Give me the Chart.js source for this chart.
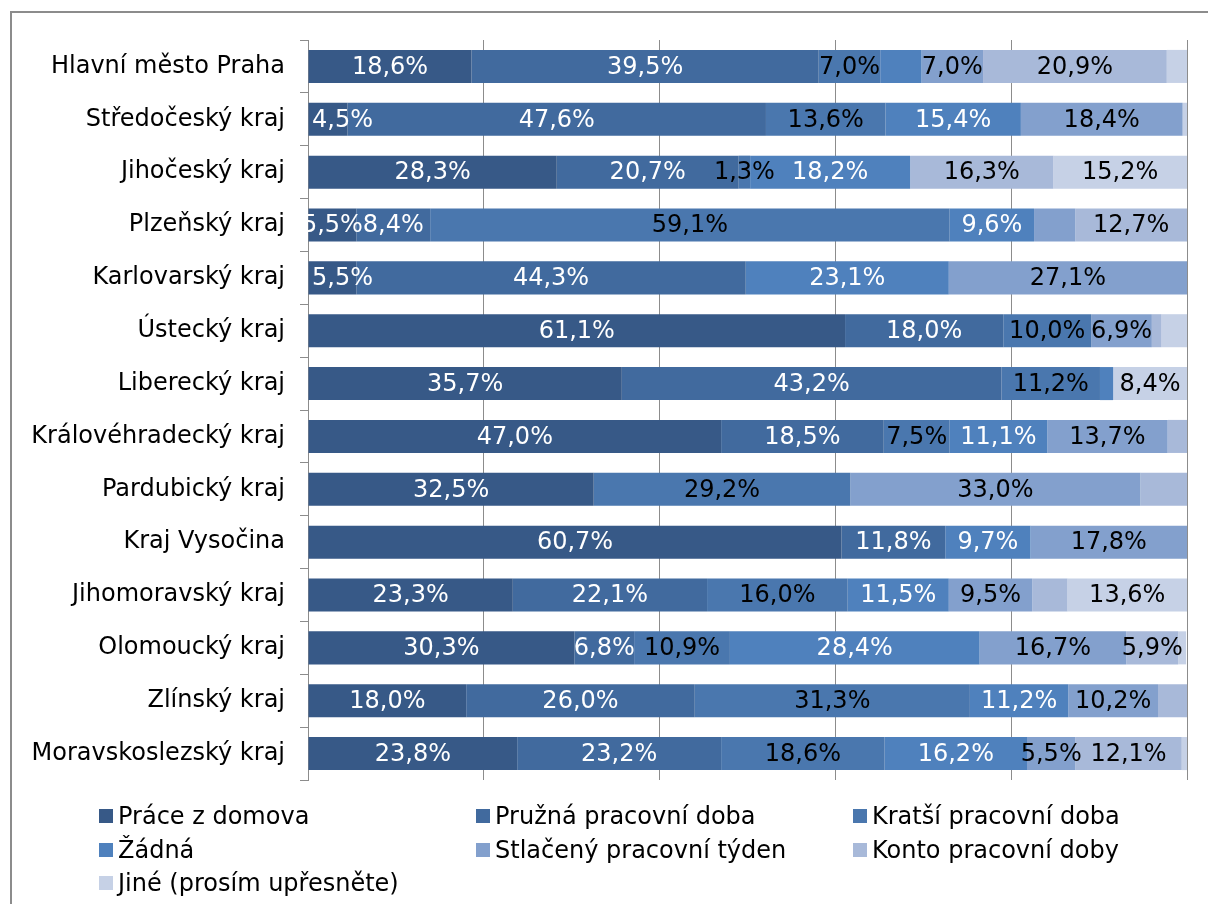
<!DOCTYPE html>
<html>
<head>
<meta charset="utf-8">
<script src="https://cdn.jsdelivr.net/npm/chart.js@4"></script>
<style>
    html, body { margin: 0; padding: 0; background: #fff; }
    body { width: 1208px; height: 904px; position: relative; overflow: hidden; font-family: "DejaVu Sans", sans-serif; }
    #frame { position: absolute; left: 10px; top: 11px; width: 1300px; height: 1000px; border: 2px solid #8c8c8c; box-sizing: border-box; }
    #wrap { position: absolute; left: 0; top: 0; width: 1208px; height: 904px; }
    #legend { position: absolute; left: 99px; top: 800px; display: grid; grid-template-columns: 377px 377px 377px; row-gap: 0; }
    #legend div { height: 33.5px; line-height: 33.5px; font-size: 24px; color: #000; white-space: nowrap; }
    #legend span { display: inline-block; width: 14px; height: 14px; margin-right: 5px; vertical-align: 1px; }
</style>
</head>
<body>
<div id="frame"></div>
<div id="wrap"><canvas id="chart" width="1208" height="904"></canvas></div>
<div id="legend"></div>
<script>
    const regions = ['Hlavní město Praha', 'Středočeský kraj', 'Jihočeský kraj', 'Plzeňský kraj', 'Karlovarský kraj',
        'Ústecký kraj', 'Liberecký kraj', 'Královéhradecký kraj', 'Pardubický kraj', 'Kraj Vysočina',
        'Jihomoravský kraj', 'Olomoucký kraj', 'Zlínský kraj', 'Moravskoslezský kraj'];

    const seriesNames = ['Práce z domova', 'Pružná pracovní doba', 'Kratší pracovní doba', 'Žádná',
        'Stlačený pracovní týden', 'Konto pracovní doby', 'Jiné (prosím upřesněte)'];

    const praceZDomova = [18.6, 4.5, 28.3, 5.5, 5.5, 61.1, 35.7, 47.0, 32.5, 60.7, 23.3, 30.3, 18.0, 23.8];
    const pruznaDoba = [39.5, 47.6, 20.7, 8.4, 44.3, 18.0, 43.2, 18.5, 0, 11.8, 22.1, 6.8, 26.0, 23.2];
    const kratsiDoba = [7.0, 13.6, 1.3, 59.1, 0, 10.0, 11.2, 7.5, 29.2, 0, 16.0, 10.9, 31.3, 18.6];
    const zadna = [4.7, 15.4, 18.2, 9.6, 23.1, 0, 1.5, 11.1, 0, 9.7, 11.5, 28.4, 11.2, 16.2];
    const stlacenyTyden = [7.0, 18.4, 0, 4.7, 27.1, 6.9, 0, 13.7, 33.0, 17.8, 9.5, 16.7, 10.2, 5.5];
    const kontoDoby = [20.9, 0, 16.3, 12.7, 0, 1.1, 0, 2.2, 5.3, 0, 4.0, 5.9, 3.3, 12.1];
    const jine = [2.3, 0.5, 15.2, 0, 0, 2.9, 8.4, 0, 0, 0, 13.6, 0.9, 0, 0.6];

    // segments that have no value label in the original: [region index, series index]
    const unlabeled = [[0, 3], [0, 6], [1, 6], [3, 4], [5, 5], [5, 6], [6, 3], [7, 5], [8, 5], [10, 5], [11, 6], [12, 5], [13, 6]];

    const seriesValues = [praceZDomova, pruznaDoba, kratsiDoba, zadna, stlacenyTyden, kontoDoby, jine];
    const colors = ['#375987', '#416a9e', '#4a77ae', '#4f81bd', '#83a0cd', '#a8b9d9', '#c6d1e6'];
    const labelColors = ['#fff', '#fff', '#000', '#fff', '#000', '#000', '#000'];

    const fontFamily = '"DejaVu Sans", sans-serif';

    const fmt = v => v.toFixed(1).replace('.', ',') + '%';

    const valueLabels = {
        id: 'valueLabels',
        afterDatasetsDraw(chart) {
            const ctx = chart.ctx;
            const area = chart.chartArea;
            ctx.save();
            ctx.beginPath();
            ctx.rect(area.left, 0, chart.width - area.left, chart.height);
            ctx.clip();
            ctx.font = '24px ' + fontFamily;
            ctx.textAlign = 'center';
            ctx.textBaseline = 'middle';
            chart.data.datasets.forEach((ds, di) => {
                const meta = chart.getDatasetMeta(di);
                meta.data.forEach((bar, i) => {
                    const v = ds.data[i];
                    if (!v) return;
                    if (unlabeled.some(p => p[0] === i && p[1] === di)) return;
                    const text = fmt(v);
                    const w = ctx.measureText(text).width;
                    let x = (bar.x + bar.base) / 2;
                    // first segment: push the label inside the plot unless it would hit the next label
                    if (di === 0 && x - w / 2 < area.left) {
                        const shifted = area.left + 4 + w / 2;
                        const next = chart.getDatasetMeta(1).data[i];
                        const nw = ctx.measureText(fmt(chart.data.datasets[1].data[i] || 0)).width;
                        if (shifted + w / 2 < (next.x + next.base) / 2 - nw / 2) x = shifted;
                    }
                    ctx.fillStyle = labelColors[di];
                    ctx.fillText(text, x, bar.y + 1);
                });
            });
            ctx.restore();
        }
    };

    const datasets = seriesNames.map((name, i) => ({
        label: name,
        data: seriesValues[i],
        backgroundColor: colors[i],
        borderWidth: 0,
        barPercentage: 0.625,
        categoryPercentage: 1
    }));

    new Chart(document.getElementById('chart'), {
        type: 'bar',
        data: {labels: regions, datasets: datasets},
        plugins: [valueLabels],
        options: {
            indexAxis: 'y',
            responsive: false,
            animation: false,
            layout: {padding: {top: 40, right: 21, bottom: 124, left: 0}},
            plugins: {legend: {display: false}, tooltip: {enabled: false}},
            scales: {
                x: {
                    stacked: true,
                    min: 0,
                    max: 100,
                    ticks: {display: false, stepSize: 20},
                    grid: {color: '#8c8c8c', lineWidth: 1, drawTicks: false},
                    border: {display: false}
                },
                y: {
                    stacked: true,
                    afterFit: scale => { scale.width = 308; },
                    ticks: {color: '#000', font: {family: fontFamily, size: 24}, padding: 15},
                    grid: {drawOnChartArea: false, drawTicks: true, tickLength: 8, color: '#8c8c8c'},
                    border: {display: true, color: '#8c8c8c'}
                }
            }
        }
    });

    const legend = document.getElementById('legend');
    seriesNames.forEach((name, i) => {
        const item = document.createElement('div');
        const sw = document.createElement('span');
        sw.style.background = colors[i];
        item.appendChild(sw);
        item.appendChild(document.createTextNode(name));
        legend.appendChild(item);
    });
</script>
</body>
</html>
